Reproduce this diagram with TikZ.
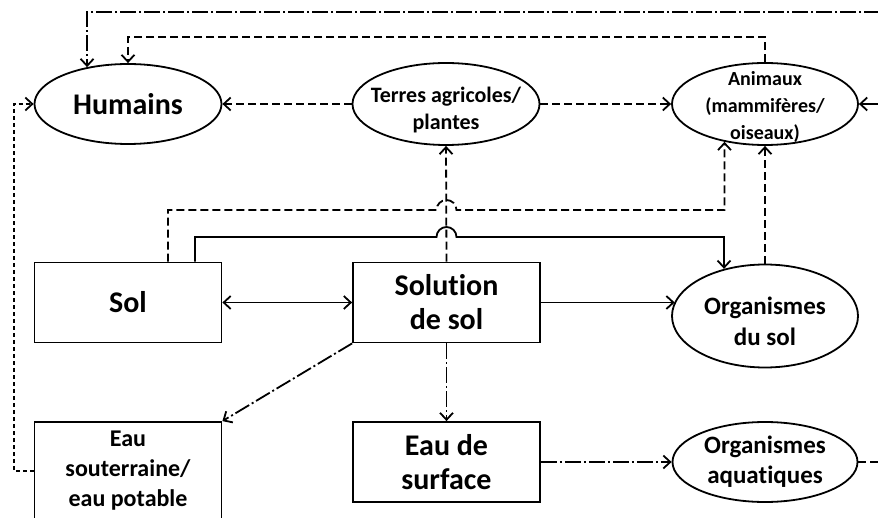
\documentclass[tikz,border=0pt]{standalone}
\usepackage{fontspec}
\setmainfont{Carlito}[Ligatures={NoCommon}]
\usetikzlibrary{shapes.geometric,arrows.meta,calc}
\begin{document}
\begin{tikzpicture}[x=1pt,y=-1pt,
  >={Straight Barb[length=7pt,width=13pt]},
  ell/.style={ellipse,draw,line width=1.8pt,inner sep=-30pt,align=center},
  box/.style={rectangle,draw,line width=1.8pt,inner sep=0pt,align=center},
  lbl/.style={align=center,inner sep=0pt},
  conn/.style={line width=1.8pt,->},
  dsh/.style={dash pattern=on 8pt off 4pt},
  dd/.style={dash pattern=on 16pt off 3pt on 2pt off 3pt},
  dt/.style={dash pattern=on 4pt off 3pt},
  big/.style={font=\bfseries\fontsize{30}{34}\selectfont},
]
\clip (0,0) rectangle (878,518);
\fill[white] (0,0) rectangle (878,518);

\node[ell,minimum width=187pt,minimum height=80pt,big] (hum) at (128,104) {Humains};
\node[ell,minimum width=187pt,minimum height=82pt,
  label={[lbl,yshift=-6pt,font=\bfseries\fontsize{22}{27}\selectfont]center:{Terres agricoles/\\plantes}}] (terres) at (446,104) {};
\node[ell,minimum width=186pt,minimum height=82pt,
  label={[lbl,yshift=-3pt,font=\bfseries\fontsize{20}{27}\selectfont]center:{Animaux\\(mammifères/\\oiseaux)}}] (anim) at (765,104) {};
\node[box,minimum width=187pt,minimum height=80pt,big] (sol) at (128,302.5) {Sol};
\node[box,minimum width=187pt,minimum height=80pt,big] (solu) at (446.5,302.5) {Solution\\de sol};
\node[ell,minimum width=186pt,minimum height=103pt,
  label={[lbl,yshift=-5pt,font=\bfseries\fontsize{25}{31}\selectfont]center:{Organismes\\du sol}}] (orgsol) at (765,316) {};
\node[box,minimum width=187pt,minimum height=98pt,font=\bfseries\fontsize{24}{30}\selectfont] (eaus) at (128,471) {Eau\\souterraine/\\eau potable};
\node[box,minimum width=187pt,minimum height=80pt,big] (surf) at (446.5,462) {Eau de\\surface};
\node[ell,minimum width=185pt,minimum height=80pt,font=\bfseries\fontsize{25}{30}\selectfont] (aqua) at (765,462) {Organismes\\aquatiques};

\coordinate (r1) at (880,12);
\coordinate (r2) at (880,104);
\coordinate (r3) at (880,462);
\coordinate (t2) at (0,37);
\coordinate (h1) at (0,210);
\coordinate (h2) at (0,237);

\draw[conn,dd] (r1) -| (hum.138);
\draw[conn,dsh] (anim.north) -- (anim.north |- t2) -| (hum.north);
\draw[conn,dsh] (terres.west) -- (hum.east);
\draw[conn,dsh] (terres.east) -- (anim.west);
\draw[conn,dt] (eaus.west) -- ++(-20,0) |- (hum.west);
\draw[conn,dsh] ($(sol.north)+(40,0)$) |- ($(solu.north|-h1)+(-10,0)$) arc[start angle=180,end angle=360,radius=10] -| (anim.223);
\draw[conn] ($(sol.north)+(67,0)$) |- ($(solu.north|-h2)+(-10,0)$) arc[start angle=180,end angle=360,radius=10] -| (orgsol.131);
\draw[conn,dsh] (solu.north) -- (terres.south);
\draw[conn,dsh] (orgsol.north) -- (anim.south);
\draw[line width=1.8pt,<->] (sol.east) -- (solu.west);
\draw[conn] (solu.east) -- (solu.east -| orgsol.171);
\draw[conn,dd] (solu.south west) -- (eaus.north east);
\draw[conn,dd] (solu.south) -- (surf.north);
\draw[conn,dd] (surf.east) -- (aqua.west);
\draw[line width=1.8pt,dsh] (aqua.east) -- (r3);
\draw[conn] (r2) -- (anim.east);
\end{tikzpicture}
\end{document}
